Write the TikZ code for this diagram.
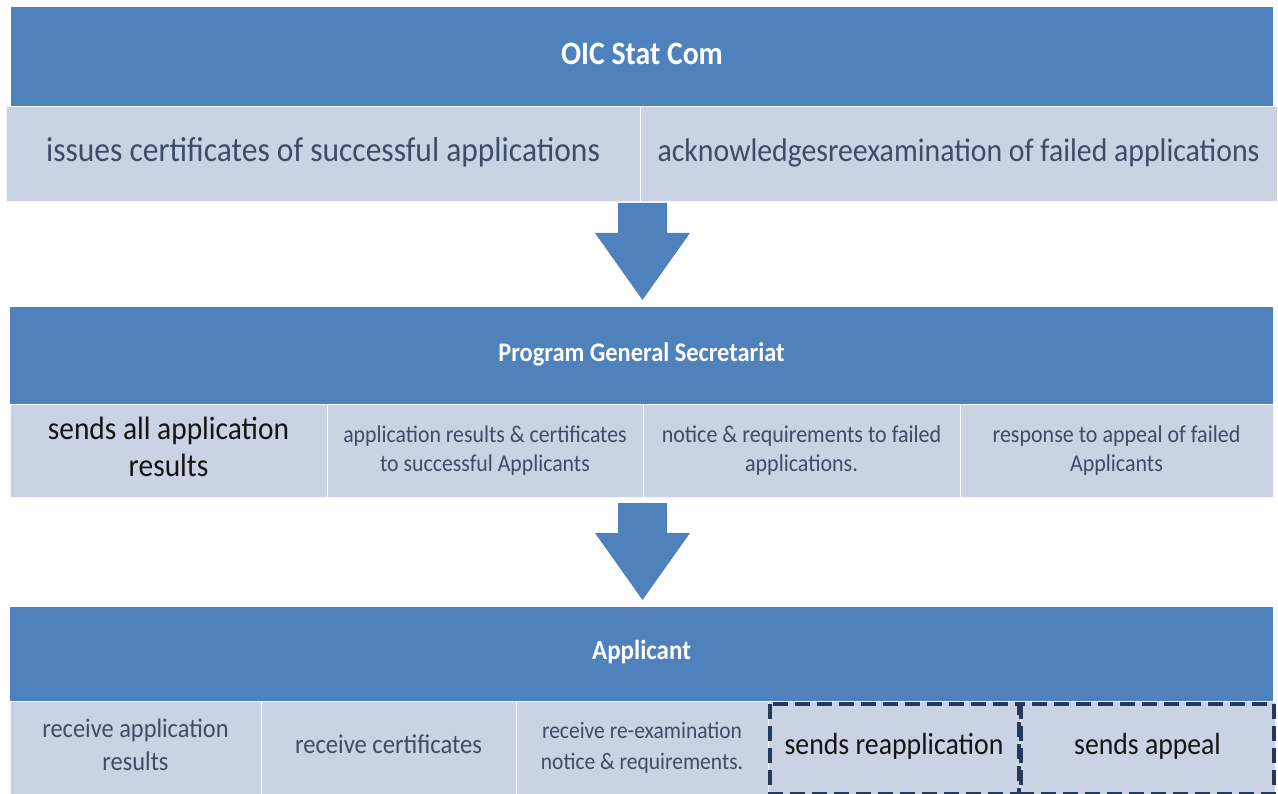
\documentclass[tikz,border=0pt]{standalone}
\usepackage{fontspec}
\setmainfont{Carlito}
\usepackage{graphicx}
\definecolor{hdr}{RGB}{79,129,189}
\definecolor{cellbg}{RGB}{201,211,227}
\definecolor{lighttxt}{RGB}{62,76,104}
\definecolor{darktxt}{RGB}{20,20,20}
\definecolor{navy}{RGB}{35,58,92}
\newcommand\stx[3]{\scalebox{1}[1.1]{\fontsize{#1}{#2}\selectfont\begin{tabular}{@{}c@{}}#3\end{tabular}}}
\begin{document}
\begin{tikzpicture}[x=1pt,y=-1pt,
  hdrbox/.style={fill=hdr, draw=none, inner sep=0pt, text=white},
  cellbox/.style={fill=cellbg, draw=white!85!cellbg, line width=1pt, inner sep=0pt, text=lighttxt},
  darkcell/.style={cellbox, text=darktxt},
  dashbox/.style={draw=navy, line width=3.8pt, dash pattern=on 15pt off 7pt, fill=none, inner sep=0pt},
  bigarrow/.style={fill=hdr, draw=none}
]
\useasboundingbox (0,0) rectangle (1278,794);
\fill[white] (0,0) rectangle (1278,794);

% ---- Row 1
\node[hdrbox, minimum width=1262pt, minimum height=99pt] (h1) at (642,57) {\stx{29.7}{32}{\textbf{OIC Stat Com}}};
\node[cellbox, minimum width=634pt, minimum height=95pt] (c11) at (323,154.5) {\stx{31.5}{34}{issues certificates of successful applications}};
\node[cellbox, minimum width=637pt, minimum height=95pt] (c12) at (958.5,154.5) {\stx{29.8}{32}{acknowledgesreexamination of failed applications}};

% ---- Arrow 1
\fill[bigarrow] (618,203) -- (667,203) -- (667,233) -- (690,233) -- (642.5,300) -- (595,233) -- (618,233) -- cycle;

% ---- Row 2
\node[hdrbox, minimum width=1263pt, minimum height=98pt] (h2) at (641.5,356) {\stx{24.4}{26}{\textbf{Program General Secretariat}}};
\node[darkcell, minimum width=317pt, minimum height=92pt] (c21) at (168.5,451) {\stx{29.4}{33.6}{sends all application\\results}};
\node[cellbox, minimum width=316pt, minimum height=92pt] (c22) at (485,451) {\stx{21.8}{26.8}{application results \& certificates\\to successful Applicants}};
\node[cellbox, minimum width=317pt, minimum height=92pt] (c23) at (801.5,451) {\stx{22}{26.8}{notice \& requirements to failed\\applications.}};
\node[cellbox, minimum width=313pt, minimum height=92pt] (c24) at (1116.5,451) {\stx{22}{26.8}{response to appeal of failed\\Applicants}};

% ---- Arrow 2
\fill[bigarrow] (618,503) -- (667,503) -- (667,533) -- (690,533) -- (642.5,600) -- (595,533) -- (618,533) -- cycle;

% ---- Row 3
\node[hdrbox, minimum width=1263pt, minimum height=94pt] (h3) at (641.5,654) {\stx{25}{27}{\textbf{Applicant}}};
\node[cellbox, minimum width=251pt, minimum height=93pt] (c31) at (135.5,747.5) {\stx{24.4}{30}{receive application\\results}};
\node[cellbox, minimum width=255pt, minimum height=93pt] (c32) at (388.5,747.5) {\stx{24.6}{27}{receive certificates}};
\node[cellbox, minimum width=252pt, minimum height=93pt] (c33) at (642,747.5) {\stx{21.5}{28}{receive re-examination\\notice \& requirements.}};
\node[darkcell, minimum width=252pt, minimum height=93pt] (c34) at (894,747.5) {\stx{27.8}{30}{sends reapplication}};
\node[darkcell, minimum width=255pt, minimum height=93pt] (c35) at (1147.5,747.5) {\stx{27.7}{30}{sends appeal}};
\draw[dashbox] (770,704) rectangle (1019,794);
\draw[dashbox] (1021,704) rectangle (1274,794);
\end{tikzpicture}
\end{document}
